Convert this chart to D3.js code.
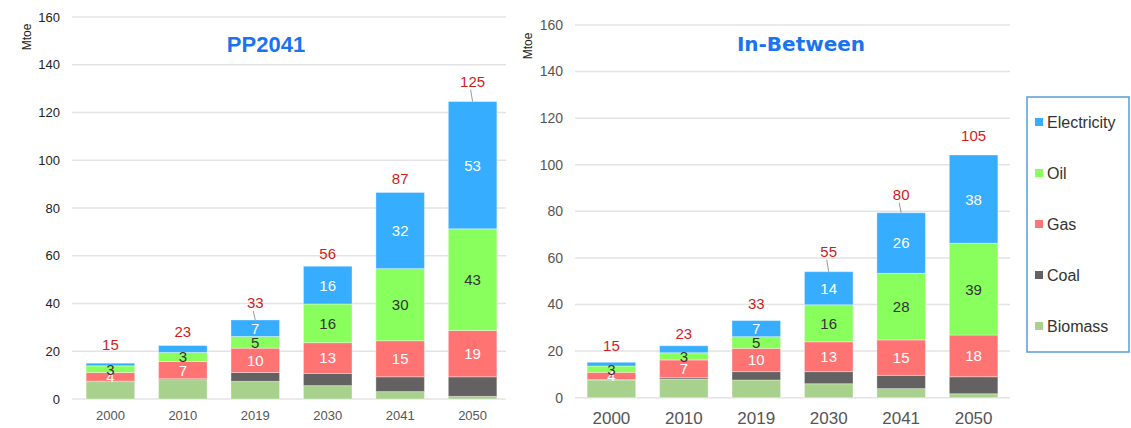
<!DOCTYPE html>
<html>
<head>
<meta charset="utf-8">
<script src="https://cdn.jsdelivr.net/npm/d3@7/dist/d3.min.js"></script>
<style>
  body { margin: 0; background: #fff; }
  svg { font-family: "Liberation Sans", Arial, sans-serif; }
</style>
</head>
<body>
<svg id="chart" width="1131" height="428"></svg>
<script>
// categories and series
const years = ["2000", "2010", "2019", "2030", "2041", "2050"];
const seriesNames = ["Biomass", "Coal", "Gas", "Oil", "Electricity"];
const seriesColors = ["#a9d18e", "#636161", "#ff7373", "#88ff5c", "#36adff"];
const yTicks = [0, 20, 40, 60, 80, 100, 120, 140, 160];

// PP2041 values (Mtoe)
const ppBiomass = [7.3, 8.1, 7.4, 5.6, 3.1, 1.1];
const ppCoal = [0.2, 0.4, 3.7, 5.1, 6.2, 8.2];
const ppGas = [3.6, 7.2, 10.2, 12.9, 15.1, 19.4];
const ppOil = [2.8, 3.8, 4.9, 16.2, 30.2, 42.6];
const ppElec = [1.1, 2.9, 6.9, 15.8, 31.9, 53.3];
const ppTotals = [15, 23, 33, 56, 87, 125];
const ppGasLabels = [4, 7, 10, 13, 15, 19];
const ppOilLabels = [3, 3, 5, 16, 30, 43];
const ppElecLabels = [null, null, 7, 16, 32, 53];

// In-Between values (Mtoe)
const ibBiomass = [7.6, 8.0, 7.6, 6.0, 3.9, 1.7];
const ibCoal = [0.2, 0.6, 3.6, 5.2, 5.7, 7.3];
const ibGas = [3.1, 7.6, 10.0, 12.8, 15.2, 17.9];
const ibOil = [2.7, 3.1, 5.0, 15.9, 28.6, 39.4];
const ibElec = [1.6, 3.0, 6.9, 14.2, 26.0, 37.9];
const ibTotals = [15, 23, 33, 55, 80, 105];
const ibGasLabels = [4, 7, 10, 13, 15, 18];
const ibOilLabels = [3, 3, 5, 16, 28, 39];
const ibElecLabels = [null, null, 7, 14, 26, 38];

const svg = d3.select("#chart");

function drawChart(cfg) {
  const g = svg.append("g");
  const y = d3.scaleLinear().domain([0, 160]).range([cfg.y0, cfg.y1]);
  const x = d3.scaleBand().domain(years).range(cfg.xRange)
    .paddingInner(0.33).paddingOuter(0.14);

  // gridlines
  g.selectAll("line.grid").data(yTicks).join("line")
    .attr("class", "grid")
    .attr("x1", cfg.gridX[0]).attr("x2", cfg.gridX[1])
    .attr("y1", d => y(d)).attr("y2", d => y(d))
    .attr("stroke", "#e3e3e3").attr("stroke-width", 1.5);

  // y axis labels
  g.selectAll("text.ytick").data(yTicks).join("text")
    .attr("x", cfg.yLabelX).attr("y", d => y(d))
    .attr("dy", "0.35em")
    .attr("text-anchor", "end")
    .attr("font-size", cfg.yFont)
    .attr("fill", cfg.yColor)
    .text(d => d);

  // x axis labels
  g.selectAll("text.xtick").data(years).join("text")
    .attr("x", d => x(d) + x.bandwidth() / 2)
    .attr("y", cfg.xLabelY)
    .attr("text-anchor", "middle")
    .attr("font-size", cfg.xFont)
    .attr("fill", "#555")
    .text(d => d);

  // unit
  g.append("text")
    .attr("transform", `translate(${cfg.unitPos[0]},${cfg.unitPos[1]}) rotate(-90)`)
    .attr("text-anchor", "middle")
    .attr("font-size", 12)
    .attr("fill", "#222")
    .text("Mtoe");

  // title
  g.append("text")
    .attr("x", cfg.titlePos[0]).attr("y", cfg.titlePos[1])
    .attr("text-anchor", "middle")
    .attr("font-family", cfg.titleFont)
    .attr("font-weight", "bold")
    .attr("font-size", cfg.titleSize)
    .attr("fill", "#1a73f0")
    .text(cfg.title);

  // stacked bars
  const rows = years.map((yr, i) => {
    const r = { year: yr };
    seriesNames.forEach((s, k) => r[s] = cfg.series[k][i]);
    return r;
  });
  const stacked = d3.stack().keys(seriesNames)(rows);

  stacked.forEach((layer, k) => {
    g.selectAll(null).data(layer).join("rect")
      .attr("x", d => x(d.data.year))
      .attr("width", x.bandwidth())
      .attr("y", d => y(d[1]))
      .attr("height", d => y(d[0]) - y(d[1]))
      .attr("fill", seriesColors[k])
      .attr("stroke", "#fff").attr("stroke-opacity", 0.35).attr("stroke-width", 1);
  });

  // segment labels for gas, oil, electricity
  const labelSets = [null, null, cfg.gasLabels, cfg.oilLabels, cfg.elecLabels];
  const labelColors = [null, null, "#fff", "#333", "#fff"];
  stacked.forEach((layer, k) => {
    if (!labelSets[k]) return;
    g.selectAll(null).data(layer).join("text")
      .filter((d, i) => labelSets[k][i] != null)
      .attr("x", d => x(d.data.year) + x.bandwidth() / 2)
      .attr("y", d => (y(d[0]) + y(d[1])) / 2)
      .attr("dy", "0.36em")
      .attr("text-anchor", "middle")
      .attr("font-size", 15)
      .attr("fill", labelColors[k])
      .text((d, i) => labelSets[k][years.indexOf(d.data.year)]);
  });

  // totals
  const top = stacked[stacked.length - 1];
  top.forEach((d, i) => {
    const cx = x(d.data.year) + x.bandwidth() / 2;
    const gap = cfg.totalGap[i];
    if (cfg.leader[i]) {
      g.append("line")
        .attr("x1", cx).attr("x2", cx - 2)
        .attr("y1", y(d[1])).attr("y2", y(d[1]) - gap + 8)
        .attr("stroke", "#999").attr("stroke-width", 1);
    }
    g.append("text")
      .attr("x", cx).attr("y", y(d[1]) - gap)
      .attr("dy", "0.35em")
      .attr("text-anchor", "middle")
      .attr("font-size", 15)
      .attr("fill", "#d01c1c")
      .text(cfg.totals[i]);
  });
}

drawChart({
  title: "PP2041", titlePos: [266, 52], titleSize: 22,
  titleFont: "'Liberation Sans', Arial, sans-serif",
  y0: 399, y1: 17, xRange: [76, 507], gridX: [72, 506],
  yLabelX: 60, yFont: 13, yColor: "#222",
  xLabelY: 420, xFont: 13, unitPos: [31, 37],
  series: [ppBiomass, ppCoal, ppGas, ppOil, ppElec],
  totals: ppTotals, gasLabels: ppGasLabels, oilLabels: ppOilLabels, elecLabels: ppElecLabels,
  totalGap: [18, 14, 17, 13, 14, 20],
  leader: [false, false, true, false, false, true]
});

drawChart({
  title: "In-Between", titlePos: [801, 51], titleSize: 20,
  titleFont: "'DejaVu Sans', Verdana, sans-serif",
  y0: 397.7, y1: 25, xRange: [577, 1008], gridX: [575, 1010],
  yLabelX: 563, yFont: 14, yColor: "#555",
  xLabelY: 424, xFont: 17, unitPos: [532, 46],
  series: [ibBiomass, ibCoal, ibGas, ibOil, ibElec],
  totals: ibTotals, gasLabels: ibGasLabels, oilLabels: ibOilLabels, elecLabels: ibElecLabels,
  totalGap: [17, 12, 17, 20, 18, 19],
  leader: [false, false, false, true, true, false]
});

// legend
const legend = svg.append("g");
legend.append("rect")
  .attr("x", 1027).attr("y", 97).attr("width", 102).attr("height", 255)
  .attr("fill", "#fff").attr("stroke", "#5b9bd5").attr("stroke-width", 1.5);
const legendOrder = [4, 3, 2, 1, 0];
const legendY = d3.scalePoint().domain(legendOrder).range([122, 326]);
legendOrder.forEach(k => {
  legend.append("rect")
    .attr("x", 1035).attr("y", legendY(k) - 4)
    .attr("width", 8).attr("height", 8)
    .attr("fill", seriesColors[k]);
  legend.append("text")
    .attr("x", 1047).attr("y", legendY(k))
    .attr("dy", "0.36em")
    .attr("font-size", 16)
    .attr("fill", "#333")
    .text(seriesNames[k]);
});
</script>
</body>
</html>
